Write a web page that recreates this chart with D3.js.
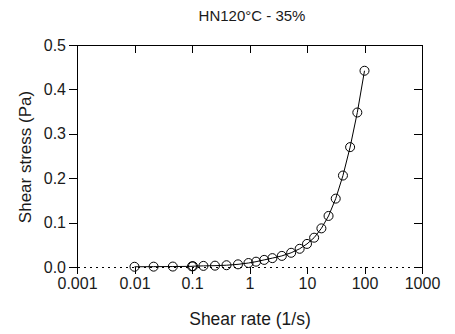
<!DOCTYPE html>
<html>
<head>
<meta charset="utf-8">
<style>
  body { margin: 0; background: #fff; }
  svg text { font-family: "Liberation Sans", Arial, sans-serif; fill: #1a1a1a; }
  .tick line, .domain { stroke: #000; shape-rendering: crispEdges; }
</style>
</head>
<body>
<div id="chart"></div>
<script src="https://d3js.org/d3.v7.min.js"></script>
<script>
  // shear sweep
  const shearRate = [0.01, 0.0215, 0.0464, 0.1, 0.104, 0.158, 0.251, 0.398, 0.631, 0.96,
    1.3, 1.8, 2.5, 3.65, 5.3, 7.45, 10, 13.3, 17.8, 23.7, 31.6, 42.2, 56.2, 75, 100];
  const shearStress = [0.0005, 0.0008, 0.001, 0.0015, 0.0018, 0.0025, 0.003, 0.004, 0.006, 0.009,
    0.012, 0.016, 0.02, 0.025, 0.032, 0.041, 0.052, 0.066, 0.087, 0.115, 0.154, 0.206, 0.27, 0.348, 0.442];
  const xTicks = [0.001, 0.01, 0.1, 1, 10, 100, 1000];
  const yTicks = [0.0, 0.1, 0.2, 0.3, 0.4, 0.5];

  const data = shearRate.map((d, i) => ({ x: d, y: shearStress[i] }));

  const width = 455;
  const height = 334;
  const margin = { top: 45, right: 33, bottom: 67, left: 77 };

  const svg = d3.select('#chart')
    .append('svg')
    .attr('width', width)
    .attr('height', height);

  const x = d3.scaleLog()
    .domain([0.001, 1000])
    .range([margin.left, width - margin.right]);

  const y = d3.scaleLinear()
    .domain([0, 0.5])
    .range([height - margin.bottom, margin.top]);

  // bottom axis, dotted line with ticks pointing down
  const xAxis = svg.append('g')
    .attr('transform', `translate(0, ${y(0)})`)
    .call(d3.axisBottom(x).tickValues(xTicks).tickSize(7).tickSizeOuter(0)
      .tickFormat(d3.format('~g')));
  xAxis.select('.domain').attr('stroke-dasharray', '2,4');
  xAxis.selectAll('text').attr('font-size', 16).attr('y', 11);

  // left axis
  const yAxis = svg.append('g')
    .attr('transform', `translate(${margin.left}, 0)`)
    .call(d3.axisLeft(y).tickValues(yTicks).tickSize(8).tickSizeOuter(0)
      .tickFormat(d3.format('.1f')));
  yAxis.selectAll('text').attr('font-size', 16).attr('x', -11);

  // top and right frame with inward ticks
  svg.append('g')
    .attr('transform', `translate(0, ${margin.top})`)
    .call(d3.axisTop(x).tickValues(xTicks).tickSize(-8).tickSizeOuter(0).tickFormat(''));
  svg.append('g')
    .attr('transform', `translate(${width - margin.right}, 0)`)
    .call(d3.axisRight(y).tickValues(yTicks).tickSize(-8).tickSizeOuter(0).tickFormat(''));

  // line through the points
  const line = d3.line()
    .x((d) => x(d.x))
    .y((d) => y(d.y));

  svg.append('path')
    .datum(data)
    .attr('fill', 'none')
    .attr('stroke', '#000')
    .attr('stroke-width', 1)
    .attr('d', line);

  svg.append('g')
    .selectAll('circle')
    .data(data)
    .join('circle')
    .attr('cx', (d) => x(d.x))
    .attr('cy', (d) => y(d.y))
    .attr('r', 4.5)
    .attr('fill', 'none')
    .attr('stroke', '#000')
    .attr('stroke-width', 1);

  // titles
  svg.append('text')
    .attr('x', 252)
    .attr('y', 21)
    .attr('text-anchor', 'middle')
    .attr('font-size', 15)
    .text('HN120°C - 35%');

  svg.append('text')
    .attr('x', 250)
    .attr('y', 325)
    .attr('text-anchor', 'middle')
    .attr('font-size', 17.5)
    .text('Shear rate (1/s)');

  svg.append('text')
    .attr('x', -157)
    .attr('y', 31)
    .attr('text-anchor', 'middle')
    .attr('transform', 'rotate(-90)')
    .attr('font-size', 17)
    .text('Shear stress (Pa)');
</script>
</body>
</html>
